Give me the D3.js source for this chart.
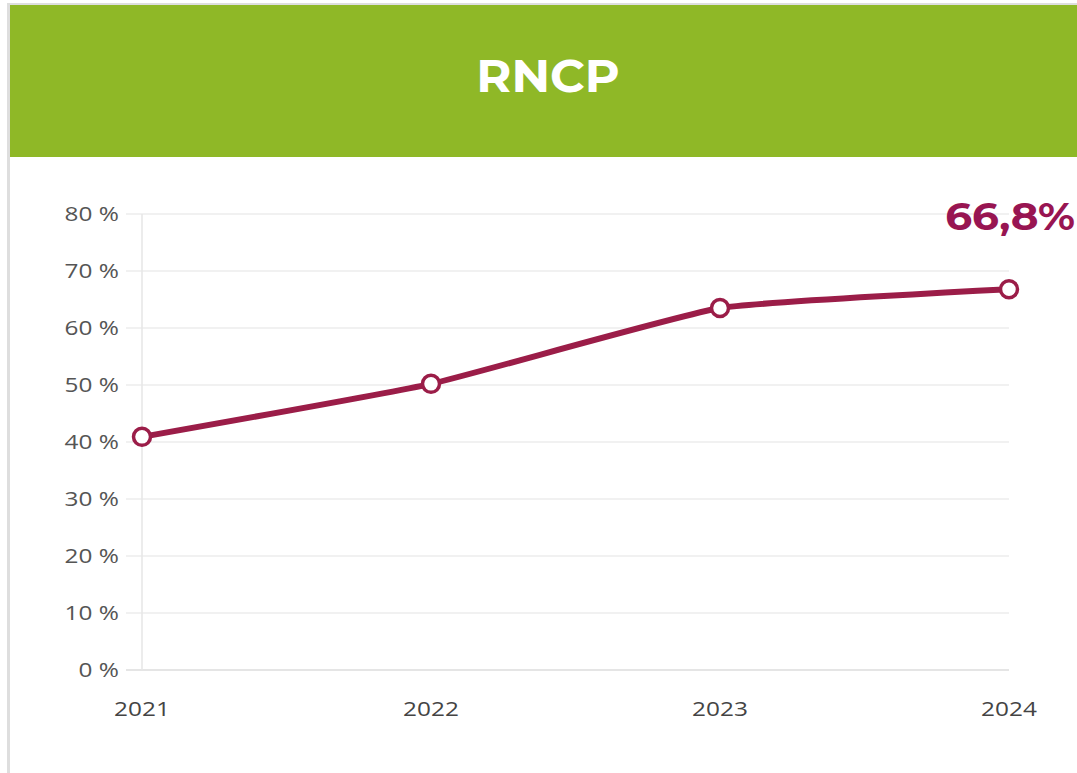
<!DOCTYPE html>
<html>
<head>
    <meta charset="utf-8">
    <title>RNCP</title>
    <script src="https://cdn.jsdelivr.net/npm/d3@7"></script>
    <style>
        body { margin: 0; background: #fff; }
    </style>
</head>
<body>
    <svg width="1077" height="773"></svg>

    <script>
        // data
        var years = ["2021", "2022", "2023", "2024"];
        var rates = [40.9, 50.2, 63.5, 66.8];
        var yTicks = [0, 10, 20, 30, 40, 50, 60, 70, 80];
        var title = "RNCP";
        var lastLabel = "66,8%";

        var svg = d3.select("svg");
        var W = 1077, H = 773;

        // frame: grey border left/top, green header
        svg.append("rect").attr("x", 7).attr("y", 3).attr("width", W - 7).attr("height", H - 3).attr("fill", "#dedede");
        svg.append("rect").attr("x", 10).attr("y", 5).attr("width", W - 10).attr("height", H - 5).attr("fill", "#fff");
        svg.append("rect").attr("x", 10).attr("y", 5).attr("width", W - 10).attr("height", 152).attr("fill", "#8fb827");
        svg.append("text")
            .attr("x", 548).attr("y", 92)
            .attr("text-anchor", "middle")
            .attr("fill", "#fff")
            .attr("font-family", "Montserrat, 'Open Sans', sans-serif")
            .attr("font-weight", 700)
            .attr("font-size", 46)
            .attr("transform", "translate(548,0) scale(1.04,1) translate(-548,0)")
            .text(title);

        var x = d3.scalePoint().domain(years).range([142, 1009]);
        var y = d3.scaleLinear().domain([0, 80]).range([670, 214]);

        // grid
        svg.append("g").selectAll("line").data(yTicks).enter().append("line")
            .attr("x1", 126).attr("x2", 1009)
            .attr("y1", function (d) { return y(d); })
            .attr("y2", function (d) { return y(d); })
            .attr("stroke", function (d) { return d === 0 ? "#dcdcdc" : "#ececec"; })
            .attr("stroke-width", 1.5);
        svg.append("line")
            .attr("x1", 142).attr("x2", 142).attr("y1", y(80)).attr("y2", y(0))
            .attr("stroke", "#e6e6e6").attr("stroke-width", 1.5);

        // y labels (text looks stretched a bit in the reference)
        svg.append("g").selectAll("text").data(yTicks).enter().append("text")
            .attr("transform", function (d) { return "translate(119," + (y(d) + 7) + ") scale(1.22,1)"; })
            .attr("text-anchor", "end")
            .attr("fill", "#555")
            .attr("font-family", "'Open Sans', sans-serif")
            .attr("font-size", 20)
            .text(function (d) { return d + " %"; });

        // x labels
        svg.append("g").selectAll("text").data(years).enter().append("text")
            .attr("transform", function (d) { return "translate(" + x(d) + ",716) scale(1.22,1)"; })
            .attr("text-anchor", "middle")
            .attr("fill", "#444")
            .attr("font-family", "'Open Sans', sans-serif")
            .attr("font-size", 20)
            .text(function (d) { return d; });

        // line
        var line = d3.line()
            .x(function (d, i) { return x(years[i]); })
            .y(function (d) { return y(d); })
            .curve(d3.curveCardinal.tension(0.6));
        svg.append("path").datum(rates)
            .attr("d", line)
            .attr("fill", "none")
            .attr("stroke", "#9b1d48")
            .attr("stroke-width", 6);

        svg.append("g").selectAll("circle").data(rates).enter().append("circle")
            .attr("cx", function (d, i) { return x(years[i]); })
            .attr("cy", function (d) { return y(d); })
            .attr("r", 8.5)
            .attr("fill", "#fff")
            .attr("stroke", "#9b1d48")
            .attr("stroke-width", 3.5);

        svg.append("text")
            .attr("x", 1075).attr("y", 230)
            .attr("text-anchor", "end")
            .attr("fill", "#981552")
            .attr("font-family", "Montserrat, 'Open Sans', sans-serif")
            .attr("font-weight", 700)
            .attr("font-size", 39)
            .attr("transform", "translate(1075,0) scale(1.08,1) translate(-1075,0)")
            .text(lastLabel);
    </script>
</body>
</html>
